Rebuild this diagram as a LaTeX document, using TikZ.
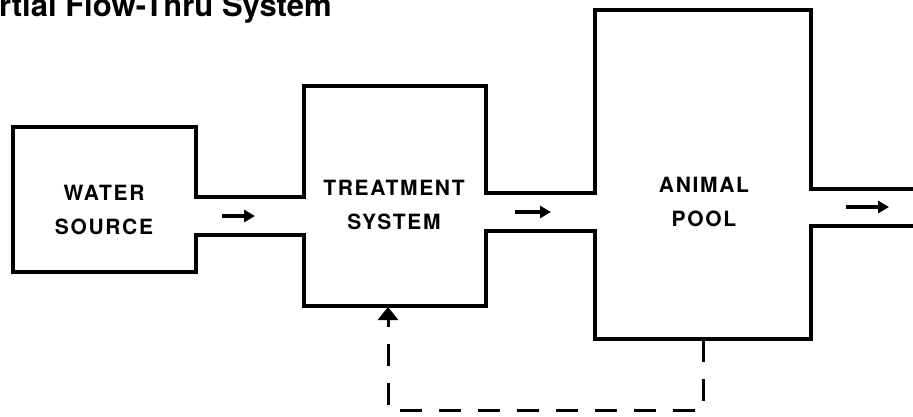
\documentclass[tikz,border=0pt]{standalone}
\usepackage{fontspec}
\setmainfont{TeX Gyre Heros}
\newfontfamily\boxfont[LetterSpace=8]{TeX Gyre Heros}
\usetikzlibrary{arrows.meta}

\begin{document}
\begin{tikzpicture}[
    x=1pt, y=-1pt,
    tankline/.style={line width=3.4pt, line join=miter},
    boxlabel/.style={font=\boxfont\bfseries\fontsize{21}{26}\selectfont, align=center, inner sep=0pt},
    flow/.style={line width=3.4pt, -{Triangle[length=11pt,width=12pt]}},
    recycle/.style={line width=3pt, dash pattern=on 22pt off 17pt, -{Triangle[length=13pt,width=20pt]}}
  ]
  \useasboundingbox (0,0) rectangle (913,416);

  % title, cut off at the left edge
  \node[anchor=base west, inner sep=0pt, font=\bfseries\fontsize{31}{37}\selectfont] (title) at (-1,16) {rtial Flow-Thru System};

  % the three tanks joined by pipes, one outline
  \draw[tankline] (13,272) -- (13,127) -- (196,127) -- (196,197) -- (304,197)
    -- (304,86) -- (486,86) -- (486,193) -- (595,193) -- (595,10) -- (811,10)
    -- (811,189) -- (920,189);
  \draw[tankline] (920,226) -- (811,226) -- (811,339) -- (595,339) -- (595,231)
    -- (486,231) -- (486,306) -- (304,306) -- (304,235) -- (196,235)
    -- (196,272) -- (11.3,272);

  % labels
  \node[boxlabel] (water) at (104,210) {WATER\\[8pt]SOURCE};
  \node[boxlabel] (treat) at (394,205) {TREATMENT\\[8pt]SYSTEM};
  \node[boxlabel] (pool) at (704,202) {ANIMAL\\[8pt]POOL};

  % flow arrows in the pipes
  \coordinate (p1a) at (222,216); \coordinate (p1b) at (255,216);
  \coordinate (p2a) at (515,212); \coordinate (p2b) at (551,212);
  \coordinate (p3a) at (846,207); \coordinate (p3b) at (889,207);
  \draw[flow] (p1a) -- (p1b);
  \draw[flow] (p2a) -- (p2b);
  \draw[flow] (p3a) -- (p3b);

  % return line from the pool back to treatment
  \coordinate (poolout) at (703,340);
  \coordinate (treatin) at (388,307);
  \draw[recycle] (poolout) -- (703,410) -- (388,410) -- (treatin);
\end{tikzpicture}
\end{document}
